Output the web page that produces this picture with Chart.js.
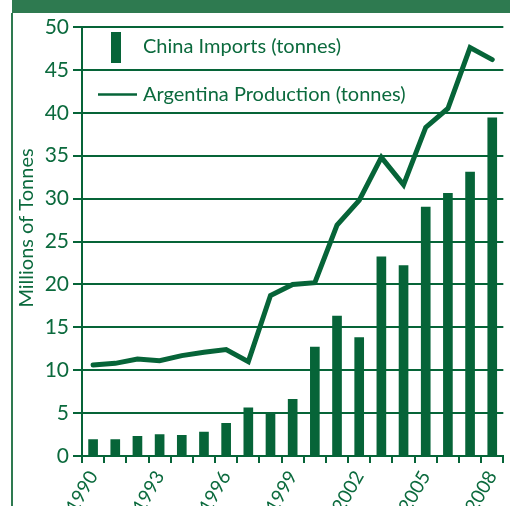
<!DOCTYPE html>
<html>
<head>
<meta charset="utf-8">
<script src="https://cdn.jsdelivr.net/npm/chart.js@4.4.1/dist/chart.umd.min.js"></script>
<style>
  html, body { margin: 0; padding: 0; background: #fff; overflow: hidden; }
  #frame { position: relative; width: 510px; height: 506px; overflow: hidden; }
  #header { position: absolute; left: 12px; top: 0; width: 498px; height: 13px; background: #2e7a50; }
  #edge { position: absolute; left: 11px; top: 13px; width: 2px; height: 493px; background: #2e7a50; }
  #wrap { position: absolute; left: 0; top: 0; width: 516px; height: 506px; }
</style>
</head>
<body>
<div id="frame">
  <div id="wrap"><canvas id="chart"></canvas></div>
  <div id="header"></div>
  <div id="edge"></div>
</div>
<script>
// Data
const years = ['1990', '1991', '1992', '1993', '1994', '1995', '1996', '1997', '1998', '1999',
  '2000', '2001', '2002', '2003', '2004', '2005', '2006', '2007', '2008'];
const chinaImports = [1.9, 1.9, 2.3, 2.5, 2.4, 2.8, 3.8, 5.6, 5.1, 6.6,
  12.7, 16.3, 13.8, 23.2, 22.2, 29.0, 30.6, 33.1, 39.4];
const argentinaProduction = [10.6, 10.8, 11.3, 11.1, 11.7, 12.1, 12.4, 11.0, 18.7, 20.0,
  20.2, 26.9, 29.8, 34.8, 31.6, 38.3, 40.5, 47.6, 46.2];
const yTicks = [0, 5, 10, 15, 20, 25, 30, 35, 40, 45, 50];
const yTitle = 'Millions of Tonnes';

const green = '#066438';
const textGreen = '#0b6a3d';
const fontFamily = 'Lato, "Noto Sans", sans-serif';

// Legend drawn inside the plot, top left, without a background,
// plus the y axis title (sits a little above the plot's middle)
const insideLegend = {
  id: 'insideLegend',
  afterDraw(chart) {
    const ctx = chart.ctx;
    ctx.save();
    ctx.fillStyle = green;
    ctx.fillRect(111, 32, 10, 31);
    ctx.strokeStyle = green;
    ctx.lineWidth = 2.5;
    ctx.beginPath();
    ctx.moveTo(98, 94.5);
    ctx.lineTo(137, 94.5);
    ctx.stroke();
    ctx.fillStyle = textGreen;
    ctx.font = '20px ' + fontFamily;
    ctx.textBaseline = 'middle';
    ctx.fillText(chart.data.datasets[1].label, 143, 47);
    ctx.fillText(chart.data.datasets[0].label, 143, 95);

    ctx.translate(27, 228);
    ctx.rotate(-Math.PI / 2);
    ctx.textAlign = 'center';
    ctx.fillText(yTitle, 0, 0);
    ctx.restore();
  }
};

const ctx = document.getElementById('chart').getContext('2d');
new Chart(ctx, {
  type: 'bar',
  data: {
    labels: years,
    datasets: [
      {
        type: 'line',
        label: 'Argentina Production (tonnes)',
        data: argentinaProduction,
        borderColor: green,
        borderWidth: 5,
        borderCapStyle: 'round',
        borderJoinStyle: 'miter',
        pointRadius: 0,
        tension: 0,
        order: 0
      },
      {
        type: 'bar',
        label: 'China Imports (tonnes)',
        data: chinaImports,
        backgroundColor: green,
        barThickness: 9,
        order: 1
      }
    ]
  },
  options: {
    responsive: true,
    maintainAspectRatio: false,
    animation: false,
    layout: { padding: { top: 27, right: 0, left: 0, bottom: 0 } },
    plugins: {
      legend: { display: false },
      tooltip: { enabled: false }
    },
    scales: {
      x: {
        offset: true,
        afterFit: scale => { scale.height = 50; },
        grid: {
          offset: true,
          drawOnChartArea: false,
          drawTicks: true,
          tickLength: 7,
          color: green,
          lineWidth: 2
        },
        border: { color: green, width: 2 },
        ticks: {
          autoSkip: false,
          minRotation: 60,
          maxRotation: 60,
          padding: 4,
          color: textGreen,
          font: { family: fontFamily, size: 19 },
          callback: (val, i) => (i % 3 === 0 ? years[i] : '')
        }
      },
      y: {
        min: 0,
        max: 50,
        afterFit: scale => { scale.width = 82; },
        afterBuildTicks: scale => { scale.ticks = yTicks.map(v => ({ value: v })); },
        grid: {
          color: green,
          lineWidth: 2,
          tickLength: 9
        },
        border: { color: green, width: 2 },
        ticks: {
          padding: 4,
          color: textGreen,
          font: { family: fontFamily, size: 21 }
        }
      }
    }
  },
  plugins: [insideLegend]
});
</script>
</body>
</html>
